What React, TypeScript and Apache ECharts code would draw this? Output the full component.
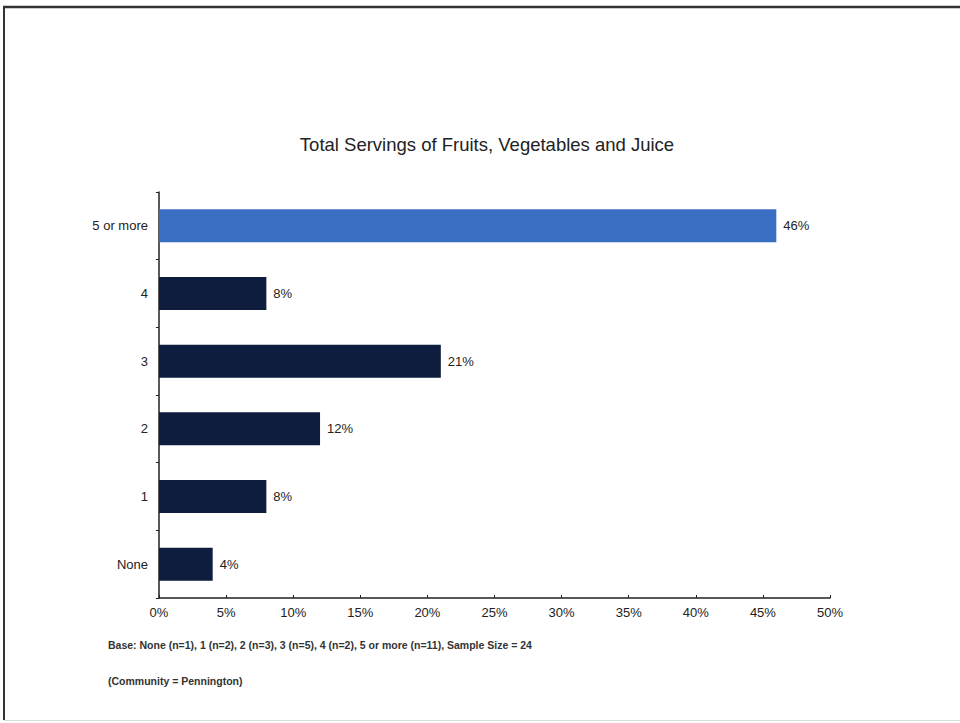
import React, { useEffect, useRef } from "react";
import * as echarts from "echarts";

const categories = ["None", "1", "2", "3", "4", "5 or more"];
const percentValues = [4, 8, 12, 21, 8, 46];
const barColors = ["#0e1d3d", "#0e1d3d", "#0e1d3d", "#0e1d3d", "#0e1d3d", "#3a6ec3"];
const titleText = "Total Servings of Fruits, Vegetables and Juice";
const footnotes = [
  "Base: None (n=1), 1 (n=2), 2 (n=3), 3 (n=5), 4 (n=2), 5 or more (n=11), Sample Size = 24",
  "(Community = Pennington)",
];

const FONT = "'Liberation Sans', Arial, sans-serif";

export default function App() {
  const ref = useRef<HTMLDivElement>(null);
  useEffect(() => {
    if (!ref.current) return;
    const chart = echarts.init(ref.current, undefined, { renderer: "svg" });
    chart.setOption({
      animation: false,
      backgroundColor: "#ffffff",
      textStyle: { fontFamily: FONT },
      grid: { left: 159, right: 130, top: 192, bottom: 125, containLabel: false },
      xAxis: {
        type: "value",
        min: 0,
        max: 50,
        interval: 5,
        axisLine: { show: true, lineStyle: { color: "#222", width: 1.5 } },
        axisTick: { show: true, inside: true, length: 3, lineStyle: { color: "#222" } },
        splitLine: { show: false },
        axisLabel: { formatter: "{value}%", color: "#222", fontSize: 13, margin: 8, fontFamily: FONT },
      },
      yAxis: {
        type: "category",
        data: categories,
        axisLine: { show: true, lineStyle: { color: "#222", width: 1.5 } },
        axisTick: { show: true, length: 3, lineStyle: { color: "#222" } },
        axisLabel: { color: "#222", fontSize: 13, margin: 11, fontFamily: FONT },
      },
      series: [
        {
          type: "bar",
          data: percentValues.map((v, i) => ({ value: v, itemStyle: { color: barColors[i] } })),
          barWidth: 33,
          label: {
            show: true,
            position: "right",
            distance: 7,
            formatter: "{c}%",
            color: "#222",
            fontSize: 13,
            fontFamily: FONT,
          },
        },
      ],
      graphic: [
        { type: "line", shape: { x1: 3, y1: 7, x2: 960, y2: 7 }, style: { stroke: "#333", lineWidth: 2.5 } },
        { type: "line", shape: { x1: 4, y1: 6, x2: 4, y2: 720 }, style: { stroke: "#333", lineWidth: 2 } },
        { type: "line", shape: { x1: 4, y1: 720.5, x2: 960, y2: 720.5 }, style: { stroke: "#ddd", lineWidth: 1 } },
        {
          type: "text",
          x: 487,
          y: 144,
          style: {
            text: titleText,
            align: "center",
            verticalAlign: "middle",
            fontSize: 18.5,
            fill: "#222",
            fontFamily: FONT,
          },
        },
        {
          type: "text",
          x: 108,
          y: 645,
          style: {
            text: footnotes[0],
            verticalAlign: "middle",
            fontSize: 10.5,
            fontWeight: "bold",
            fill: "#333",
            fontFamily: FONT,
          },
        },
        {
          type: "text",
          x: 108,
          y: 681,
          style: {
            text: footnotes[1],
            verticalAlign: "middle",
            fontSize: 10.5,
            fontWeight: "bold",
            fill: "#333",
            fontFamily: FONT,
          },
        },
      ],
    });
    return () => chart.dispose();
  }, []);
  return (
    <div
      ref={ref}
      style={{ position: "fixed", left: 0, top: 0, width: 960, height: 723 }}
    />
  );
}
